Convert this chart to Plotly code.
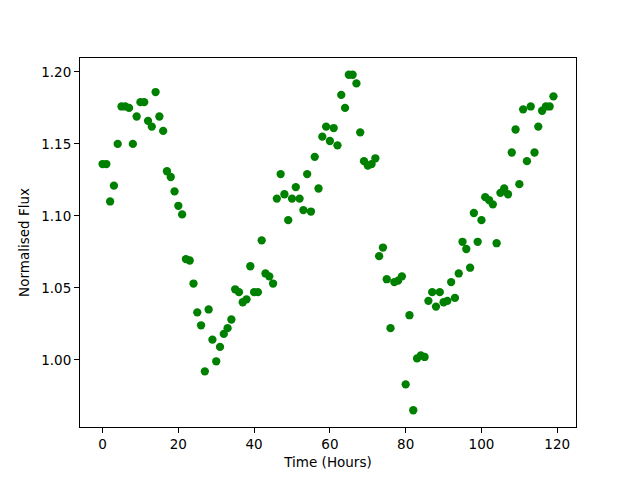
import plotly.graph_objects as go

hours = list(range(120))
flux = [
    1.136, 1.136, 1.110, 1.121, 1.150, 1.176, 1.176, 1.175, 1.150, 1.169,
    1.179, 1.179, 1.166, 1.162, 1.186, 1.169, 1.159, 1.131, 1.127, 1.117,
    1.107, 1.101, 1.070, 1.069, 1.053, 1.033, 1.024, 0.992, 1.035, 1.014,
    0.999, 1.009, 1.018, 1.022, 1.028, 1.049, 1.047, 1.040, 1.042, 1.065,
    1.047, 1.047, 1.083, 1.060, 1.058, 1.053, 1.112, 1.129, 1.115, 1.097,
    1.112, 1.120, 1.112, 1.104, 1.129, 1.103, 1.141, 1.119, 1.155, 1.162,
    1.152, 1.161, 1.149, 1.184, 1.175, 1.198, 1.198, 1.192, 1.158, 1.138,
    1.135, 1.136, 1.140, 1.072, 1.078, 1.056, 1.022, 1.054, 1.055, 1.058,
    0.983, 1.031, 0.965, 1.001, 1.003, 1.002, 1.041, 1.047, 1.037, 1.047,
    1.040, 1.041, 1.054, 1.043, 1.060, 1.082, 1.077, 1.064, 1.102, 1.082,
    1.097, 1.113, 1.111, 1.108, 1.081, 1.116, 1.119, 1.115, 1.144, 1.160,
    1.122, 1.174, 1.138, 1.176, 1.144, 1.162, 1.173, 1.176, 1.176, 1.183,
]
x_ticks = [0, 20, 40, 60, 80, 100, 120]
y_ticks = [1.00, 1.05, 1.10, 1.15, 1.20]

fig = go.Figure(go.Scatter(
    x=hours, y=flux, mode="markers",
    marker=dict(color="#008000", size=8.3, line=dict(width=0)),
))

xmin, xmax = min(hours), max(hours)
ymin, ymax = min(flux), max(flux)
xm = (xmax - xmin) * 0.05
ym = (ymax - ymin) * 0.05

axis_common = dict(
    showgrid=False, zeroline=False, showline=True, linecolor="black",
    linewidth=1, mirror=True, ticks="outside", ticklen=5, tickwidth=1,
    tickcolor="black", tickfont=dict(family="DejaVu Sans", size=13.5, color="black"),
)

fig.update_layout(
    width=632, height=472,
    margin=dict(l=72, r=64, t=50, b=53),
    paper_bgcolor="white", plot_bgcolor="white",
    showlegend=False,
    font=dict(family="DejaVu Sans", size=13.5, color="black"),
    xaxis=dict(range=[xmin - xm, xmax + xm], tickvals=x_ticks,
               title=dict(text="Time (Hours)", standoff=6,
                          font=dict(family="DejaVu Sans", size=13.5)),
               **axis_common),
    yaxis=dict(range=[ymin - ym, ymax + ym], tickvals=y_ticks, tickformat=".2f",
               title=dict(text="Normalised Flux", standoff=8,
                          font=dict(family="DejaVu Sans", size=13.5)),
               **axis_common),
)

fig.write_html("out.html")
